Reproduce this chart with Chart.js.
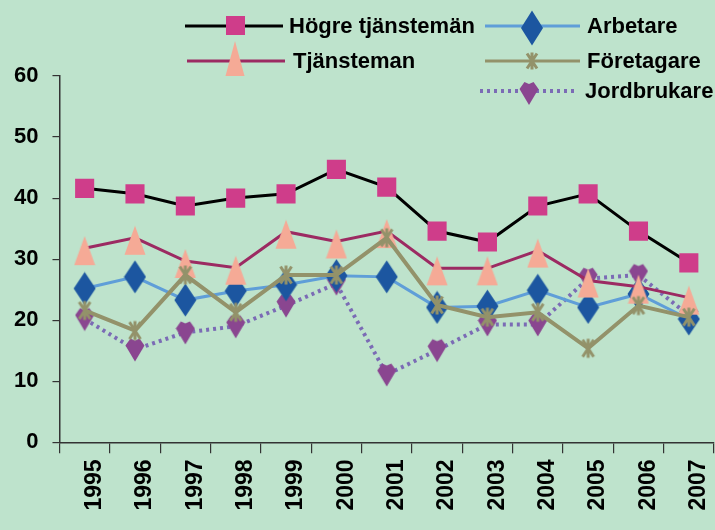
<!DOCTYPE html>
<html>
<head>
<meta charset="utf-8">
<script src="https://cdn.jsdelivr.net/npm/chart.js@4.4.1/dist/chart.umd.min.js"></script>
<style>
  body { margin: 0; background: #bee3cc; }
  #wrap { width: 715px; height: 530px; }
</style>
</head>
<body>
<div id="wrap"><canvas id="chart" width="715" height="530"></canvas></div>
<script>
const years = ["1995", "1996", "1997", "1998", "1999", "2000", "2001", "2002", "2003", "2004", "2005", "2006", "2007"];
const hogre = [41.6, 40.7, 38.7, 40.0, 40.7, 44.7, 41.8, 34.6, 32.8, 38.7, 40.7, 34.6, 29.4];
const tjansteman = [31.8, 33.5, 29.7, 28.6, 34.5, 32.9, 34.6, 28.5, 28.5, 31.4, 26.5, 25.5, 23.7];
const arbetare = [25.2, 27.1, 23.3, 24.8, 25.8, 27.3, 27.1, 22.1, 22.3, 24.9, 22.1, 24.3, 20.2];
const foretagare = [21.6, 18.3, 27.4, 21.3, 27.4, 27.4, 33.5, 22.5, 20.5, 21.3, 15.4, 22.4, 20.5];
const jordbrukare = [20.2, 15.2, 18.0, 19.0, 22.4, 26.0, 11.1, 15.1, 19.3, 19.3, 26.8, 27.4, 20.8];
const yTicks = [0, 10, 20, 30, 40, 50, 60];

const FONT = "'Liberation Sans', Arial, sans-serif";

// small canvases used as point styles
function makeMarker(w, h, draw) {
  const c = document.createElement("canvas");
  c.width = w;
  c.height = h;
  draw(c.getContext("2d"), w, h);
  return c;
}

function triPath(ctx, cx, top, bottom, w) {
  ctx.beginPath();
  ctx.moveTo(cx, top);
  ctx.lineTo(cx + w / 2, bottom);
  ctx.lineTo(cx - w / 2, bottom);
  ctx.closePath();
}
function diamondPath(ctx, cx, cy, w, h) {
  ctx.beginPath();
  ctx.moveTo(cx, cy - h / 2);
  ctx.lineTo(cx + w / 2, cy);
  ctx.lineTo(cx, cy + h / 2);
  ctx.lineTo(cx - w / 2, cy);
  ctx.closePath();
}
function heartPath(ctx, cx, cy, w, h) {
  const top = cy - h / 2;
  ctx.beginPath();
  ctx.moveTo(cx - w / 2, top + h * 0.33);
  ctx.lineTo(cx - w * 0.24, top + 1);
  ctx.lineTo(cx, top + h * 0.12);
  ctx.lineTo(cx + w * 0.24, top + 1);
  ctx.lineTo(cx + w / 2, top + h * 0.33);
  ctx.lineTo(cx, top + h);
  ctx.closePath();
}
function starPath(ctx, cx, cy, w, h) {
  ctx.beginPath();
  ctx.moveTo(cx - w / 2, cy - h / 2);
  ctx.lineTo(cx + w / 2, cy + h / 2);
  ctx.moveTo(cx + w / 2, cy - h / 2);
  ctx.lineTo(cx - w / 2, cy + h / 2);
  ctx.moveTo(cx, cy - h / 2 - 1);
  ctx.lineTo(cx, cy + h / 2 + 1);
}

const triMarker = makeMarker(22, 36, (ctx, w) => {
  triPath(ctx, w / 2, 6, 35, 21);
  ctx.fillStyle = "#f5aa96";
  ctx.fill();
});
const diaMarker = makeMarker(23, 34, (ctx, w, h) => {
  diamondPath(ctx, w / 2, h / 2, 22, 33);
  ctx.fillStyle = "#1c56a0";
  ctx.fill();
});
const starMarker = makeMarker(18, 24, (ctx, w, h) => {
  starPath(ctx, w / 2, h / 2, 11, 17);
  ctx.strokeStyle = "#93926a";
  ctx.lineWidth = 3;
  ctx.stroke();
});
const heartMarker = makeMarker(20, 25, (ctx, w, h) => {
  heartPath(ctx, w / 2, h / 2, 19, 24);
  ctx.fillStyle = "#8a4690";
  ctx.fill();
});

// legend drawn on top, two columns like the original
const legendPlugin = {
  id: "sideLegend",
  afterDraw(chart) {
    const ctx = chart.ctx;
    ctx.save();
    ctx.lineCap = "butt";
    function sample(x1, x2, y, color, width, dash) {
      ctx.beginPath();
      ctx.setLineDash(dash || []);
      ctx.strokeStyle = color;
      ctx.lineWidth = width;
      ctx.moveTo(x1, y);
      ctx.lineTo(x2, y);
      ctx.stroke();
      ctx.setLineDash([]);
    }
    function label(text, x, y) {
      ctx.fillStyle = "#000";
      ctx.font = "bold 22px " + FONT;
      ctx.textAlign = "left";
      ctx.textBaseline = "middle";
      ctx.fillText(text, x, y + 1);
    }
    // Högre tjänstemän
    sample(185, 283, 26, "#000", 3);
    ctx.fillStyle = "#cf3d8a";
    ctx.fillRect(226, 16, 19, 19);
    label("Högre tjänstemän", 289, 26);
    // Tjänsteman
    sample(187, 285, 61, "#9c2a62", 3);
    triPath(ctx, 235, 41, 76, 19);
    ctx.fillStyle = "#f5aa96";
    ctx.fill();
    label("Tjänsteman", 293, 61);
    // Arbetare
    sample(485, 580, 26, "#5f9ed8", 3);
    diamondPath(ctx, 532, 28, 22, 35);
    ctx.fillStyle = "#1c56a0";
    ctx.fill();
    label("Arbetare", 587, 26);
    // Företagare
    sample(485, 580, 61, "#93926a", 3);
    starPath(ctx, 532, 61, 10, 15);
    ctx.strokeStyle = "#93926a";
    ctx.lineWidth = 3;
    ctx.stroke();
    label("Företagare", 587, 61);
    // Jordbrukare
    sample(480, 578, 91, "#7b6bb5", 4, [3, 4]);
    heartPath(ctx, 529, 93, 19, 24);
    ctx.fillStyle = "#8a4690";
    ctx.fill();
    label("Jordbrukare", 585, 91);
    ctx.restore();
  }
};

new Chart(document.getElementById("chart"), {
  type: "line",
  data: {
    labels: years,
    datasets: [
      {
        label: "Högre tjänstemän",
        data: hogre,
        borderColor: "#000",
        borderWidth: 3,
        pointStyle: "rect",
        pointRadius: 13.5,
        pointBackgroundColor: "#cf3d8a",
        pointBorderWidth: 0,
        order: 3
      },
      {
        label: "Tjänsteman",
        data: tjansteman,
        borderColor: "#9c2a62",
        borderWidth: 3,
        pointStyle: triMarker,
        order: 1
      },
      {
        label: "Arbetare",
        data: arbetare,
        borderColor: "#5f9ed8",
        borderWidth: 3,
        pointStyle: diaMarker,
        order: 2
      },
      {
        label: "Företagare",
        data: foretagare,
        borderColor: "#93926a",
        borderWidth: 4,
        pointStyle: starMarker,
        order: 0
      },
      {
        label: "Jordbrukare",
        data: jordbrukare,
        borderColor: "#7b6bb5",
        borderWidth: 4,
        borderDash: [3, 4],
        pointStyle: heartMarker,
        order: 4
      }
    ]
  },
  options: {
    responsive: false,
    animation: false,
    devicePixelRatio: 1,
    layout: { autoPadding: false, padding: { left: 0, top: 76, right: 1, bottom: 13.5 } },
    elements: { line: { tension: 0 } },
    plugins: { legend: { display: false }, tooltip: { enabled: false } },
    scales: {
      x: {
        offset: true,
        afterFit: (scale) => {
          // let the plot run to the right edge like the original
          scale.paddingRight = 0;
          scale.paddingLeft = 0;
        },
        grid: { offset: true, drawOnChartArea: false, tickLength: 11, color: "#333", lineWidth: 1.2 },
        border: { color: "#333", width: 1.5 },
        ticks: {
          autoSkip: false,
          minRotation: 90,
          maxRotation: 90,
          padding: 6,
          labelOffset: 10,
          color: "#000",
          font: { family: FONT, size: 23, weight: "bold" }
        }
      },
      y: {
        min: 0,
        max: 60,
        afterBuildTicks: (axis) => {
          axis.ticks = yTicks.map((v) => ({ value: v }));
        },
        grid: { drawOnChartArea: false, tickLength: 7, color: "#333", lineWidth: 1.2 },
        border: { color: "#333", width: 1.5 },
        ticks: {
          padding: 14,
          color: "#000",
          font: { family: FONT, size: 22, weight: "bold" }
        }
      }
    }
  },
  plugins: [legendPlugin]
});
</script>
</body>
</html>
